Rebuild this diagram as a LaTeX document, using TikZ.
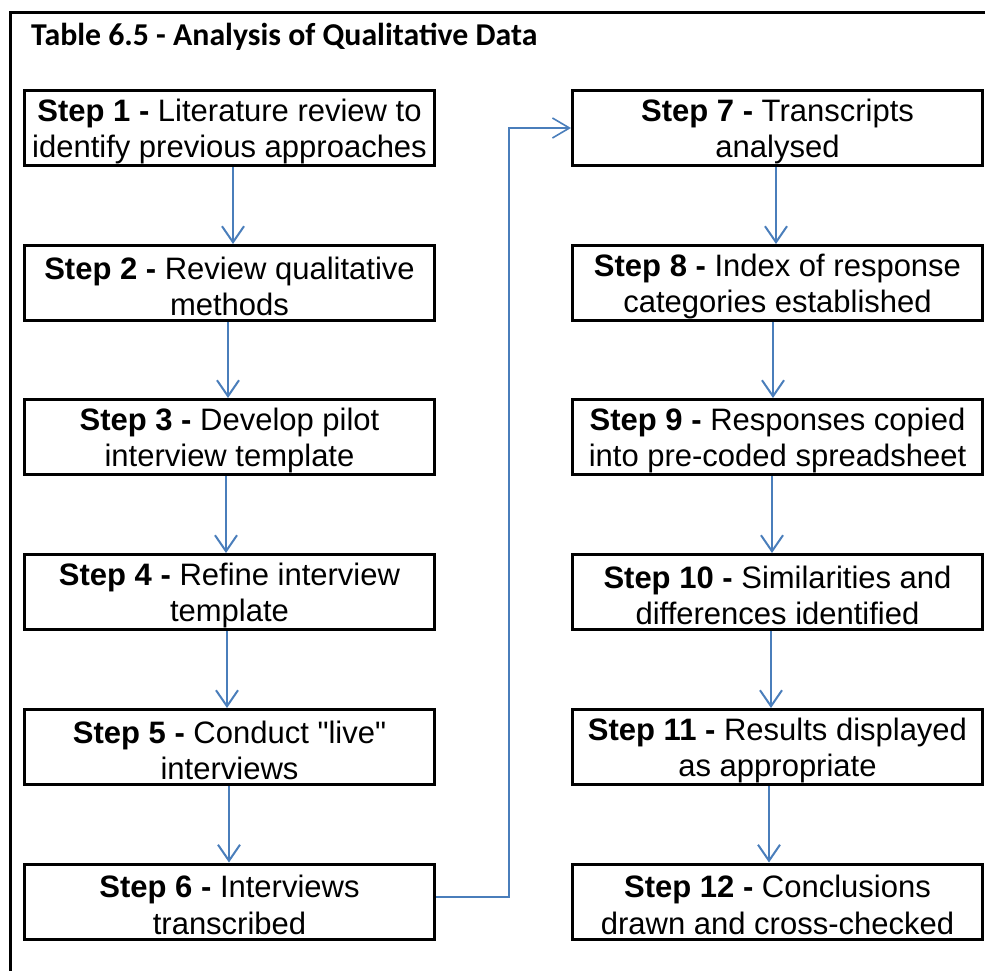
\documentclass[tikz,border=0pt]{standalone}
\usepackage{fontspec}
\setmainfont{Liberation Sans}[Ligatures=TeXOff]
\newfontfamily\titlefont{Carlito}
\usetikzlibrary{arrows.meta}
\definecolor{arrblue}{HTML}{4A7EBB}
\newcommand{\stepnode}[3]{%
  \node[stepbox] (#1) at (#2) {};
  \node[steptext] (t#1) at ([yshift=-3.5pt]#1.center) {#3};}
\begin{document}
\begin{tikzpicture}[x=1pt,y=-1pt,
  stepbox/.style={draw=black, line width=3pt, minimum width=410pt, minimum height=75pt,
    inner sep=0pt},
  steptext/.style={inner sep=0pt, align=center, font=\fontsize{31}{36.8}\selectfont},
  arr/.style={draw=arrblue, line width=2pt,
    -{Straight Barb[length=16pt,width=22pt,line width=2pt]}},
  conn/.style={draw=arrblue, line width=1.5pt,
    -{Straight Barb[length=17pt,width=20pt,line width=1.6pt]}},
  frame/.style={draw=black, line width=3pt}]
\useasboundingbox (0,0) rectangle (985,971);
\draw[frame] (10.5,975) -- (10.5,13) -- (990,13);
\node[anchor=base west, font=\titlefont\bfseries\fontsize{31.8}{33}\selectfont, inner sep=0pt] (title) at (31,46) {Table 6.5 - Analysis of Qualitative Data};
% left column
\stepnode{s1}{229.5,128}{\textbf{Step 1 -} Literature review to\\identify previous approaches}
\stepnode{s2}{229.5,283}{\textbf{Step 2 -} Review qualitative\\methods}
\stepnode{s3}{229.5,437}{\textbf{Step 3 -} Develop pilot\\interview template}
\stepnode{s4}{229.5,592}{\textbf{Step 4 -} Refine interview\\template}
\stepnode{s5}{229.5,747}{\textbf{Step 5 -} Conduct "live"\\interviews}
\stepnode{s6}{229.5,901.5}{\textbf{Step 6 -} Interviews\\transcribed}
% right column
\stepnode{s7}{777.5,128}{\textbf{Step 7 -} Transcripts\\analysed}
\stepnode{s8}{777.5,283}{\textbf{Step 8 -} Index of response\\categories established}
\stepnode{s9}{777.5,437}{\textbf{Step 9 -} Responses copied\\into pre-coded spreadsheet}
\stepnode{s10}{777.5,592}{\textbf{Step 10 -} Similarities and\\differences identified}
\stepnode{s11}{777.5,747}{\textbf{Step 11 -} Results displayed\\as appropriate}
\stepnode{s12}{777.5,901.5}{\textbf{Step 12 -} Conclusions\\drawn and cross-checked}
% arrows left
\draw[arr] ([xshift=3.5pt]s1.south) -- ([xshift=3.5pt]s2.north);
\draw[arr] ([xshift=-1.5pt]s2.south) -- ([xshift=-1.5pt]s3.north);
\draw[arr] ([xshift=-3.5pt]s3.south) -- ([xshift=-3.5pt]s4.north);
\draw[arr] ([xshift=-2.5pt]s4.south) -- ([xshift=-2.5pt]s5.north);
\draw[arr] ([xshift=-0.5pt]s5.south) -- ([xshift=-0.5pt]s6.north);
% arrows right
\draw[arr] ([xshift=-1.5pt]s7.south) -- ([xshift=-1.5pt]s8.north);
\draw[arr] ([xshift=-4.5pt]s8.south) -- ([xshift=-4.5pt]s9.north);
\draw[arr] ([xshift=-5.5pt]s9.south) -- ([xshift=-5.5pt]s10.north);
\draw[arr] ([xshift=-6.5pt]s10.south) -- ([xshift=-6.5pt]s11.north);
\draw[arr] ([xshift=-8.5pt]s11.south) -- ([xshift=-8.5pt]s12.north);
% connector 6 -> 7
\draw[conn] ([yshift=4.5pt]s6.east) -- ++(73,0) |- (s7.west);
\end{tikzpicture}
\end{document}
